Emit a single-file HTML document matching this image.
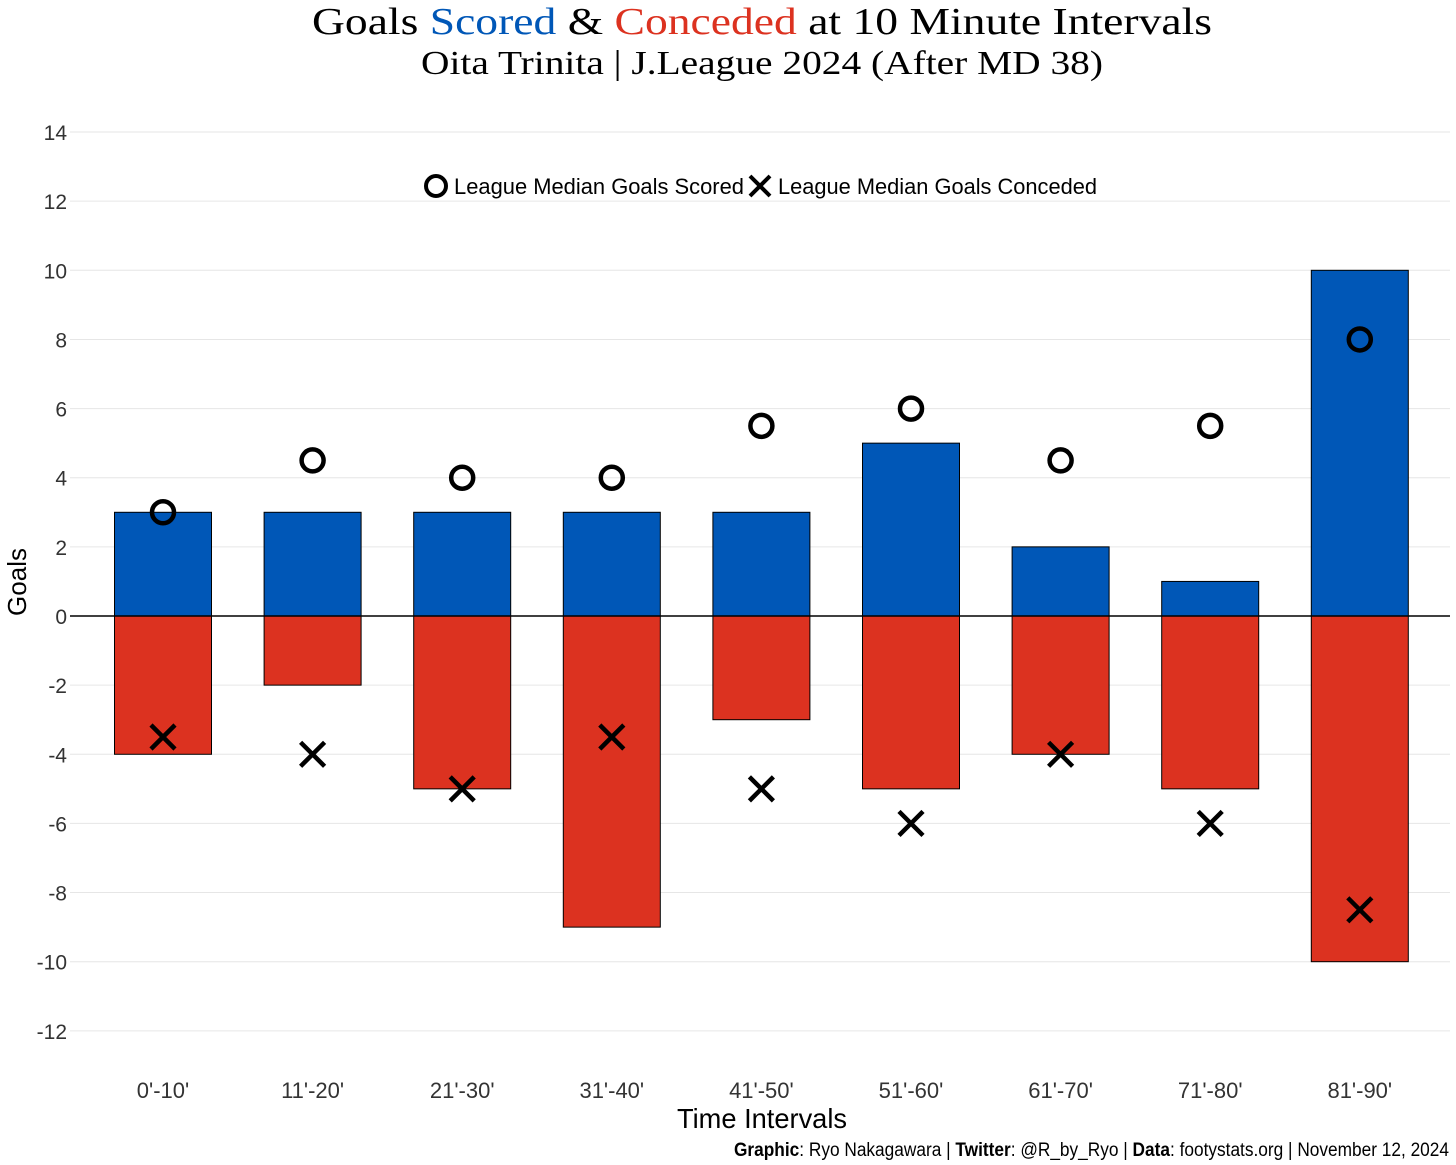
<!DOCTYPE html>
<html><head><meta charset="utf-8"><style>
html,body{margin:0;padding:0;background:#fff;}
svg{display:block;font-family:"Liberation Sans",sans-serif;}
</style></head><body>
<svg id="chart" width="1456" height="1165" viewBox="0 0 1456 1165" xmlns="http://www.w3.org/2000/svg">
<text x="762" y="34" text-anchor="middle" font-family="Liberation Serif, serif" font-size="38" fill="#000" textLength="900" lengthAdjust="spacingAndGlyphs">Goals <tspan fill="#0057b7">Scored</tspan> &amp; <tspan fill="#dc3220">Conceded</tspan> at 10 Minute Intervals</text>
<text x="762" y="74" text-anchor="middle" font-family="Liberation Serif, serif" font-size="34" fill="#000" textLength="682" lengthAdjust="spacingAndGlyphs">Oita Trinita | J.League 2024 (After MD 38)</text>
<g id="grid"></g>
<g id="bars"></g>
<line x1="70" x2="1450" y1="616" y2="616" stroke="#000" stroke-width="1.5"/>
<g id="marks"></g>
<g id="xlabels"></g>
<g>
<circle cx="436" cy="186" r="10" fill="none" stroke="#000" stroke-width="4"/>
<text x="454" y="194" font-size="22" textLength="290" lengthAdjust="spacingAndGlyphs">League Median Goals Scored</text>
<path d="M750 176 L770 196 M770 176 L750 196" stroke="#000" stroke-width="4"/>
<text x="778" y="194" font-size="22" textLength="319" lengthAdjust="spacingAndGlyphs">League Median Goals Conceded</text>
</g>
<text transform="translate(26,582) rotate(-90)" text-anchor="middle" font-size="26">Goals</text>
<text x="762" y="1128" text-anchor="middle" font-size="28" textLength="170" lengthAdjust="spacingAndGlyphs">Time Intervals</text>
<text x="1449" y="1156" text-anchor="end" font-size="19" textLength="715" lengthAdjust="spacingAndGlyphs"><tspan font-weight="bold">Graphic</tspan>: Ryo Nakagawara | <tspan font-weight="bold">Twitter</tspan>: @R_by_Ryo | <tspan font-weight="bold">Data</tspan>: footystats.org | November 12, 2024</text>
</svg>
<script>
const categories=["0'-10'","11'-20'","21'-30'","31'-40'","41'-50'","51'-60'","61'-70'","71'-80'","81'-90'"];
const scored=[3,3,3,3,3,5,2,1,10];
const conceded=[-4,-2,-5,-9,-3,-5,-4,-5,-10];
const medianScored=[3,4.5,4,4,5.5,6,4.5,5.5,8];
const medianConceded=[-3.5,-4,-5,-3.5,-5,-6,-4,-6,-8.5];
const yTicks=[14,12,10,8,6,4,2,0,-2,-4,-6,-8,-10,-12];
const NS="http://www.w3.org/2000/svg";
const y=v=>616-v*34.57;
const x=i=>163+i*149.6;
const bw=97;
function mk(tag,attrs,parent){const e=document.createElementNS(NS,tag);for(const k in attrs)e.setAttribute(k,attrs[k]);parent.appendChild(e);return e;}
const grid=document.getElementById('grid'),bars=document.getElementById('bars'),marks=document.getElementById('marks'),xl=document.getElementById('xlabels');
yTicks.forEach(t=>{
  const l=mk('line',{x1:70,x2:1450,y1:y(t),y2:y(t),stroke:'#e6e6e6','stroke-width':1},grid);
  
  
  const tx=mk('text',{x:67,y:y(t)+8,'text-anchor':'end','font-size':21,fill:'#333'},grid);
  
  
  tx.textContent=t;
});
categories.forEach((c,i)=>{
  const s=mk('rect',{x:x(i)-bw/2,y:y(scored[i]),width:bw,height:y(0)-y(scored[i]),fill:'#0057b7',stroke:'#000','stroke-width':1},bars);
  
  
  const d=mk('rect',{x:x(i)-bw/2,y:y(0),width:bw,height:y(conceded[i])-y(0),fill:'#dc3220',stroke:'#000','stroke-width':1},bars);
  
  
  const ci=mk('circle',{cx:x(i),cy:y(medianScored[i]),r:11,fill:'none',stroke:'#000','stroke-width':4.5},marks);
  
  
  const cy=y(medianConceded[i]),cx=x(i);
  const p=mk('path',{d:`M${cx-12} ${cy-12} L${cx+12} ${cy+12} M${cx+12} ${cy-12} L${cx-12} ${cy+12}`,stroke:'#000','stroke-width':4.5},marks);
  
  
  const t=mk('text',{x:x(i),y:1098,'text-anchor':'middle','font-size':22,fill:'#333'},xl);
  
  
  t.textContent=c;
});
</script>
</body></html>
